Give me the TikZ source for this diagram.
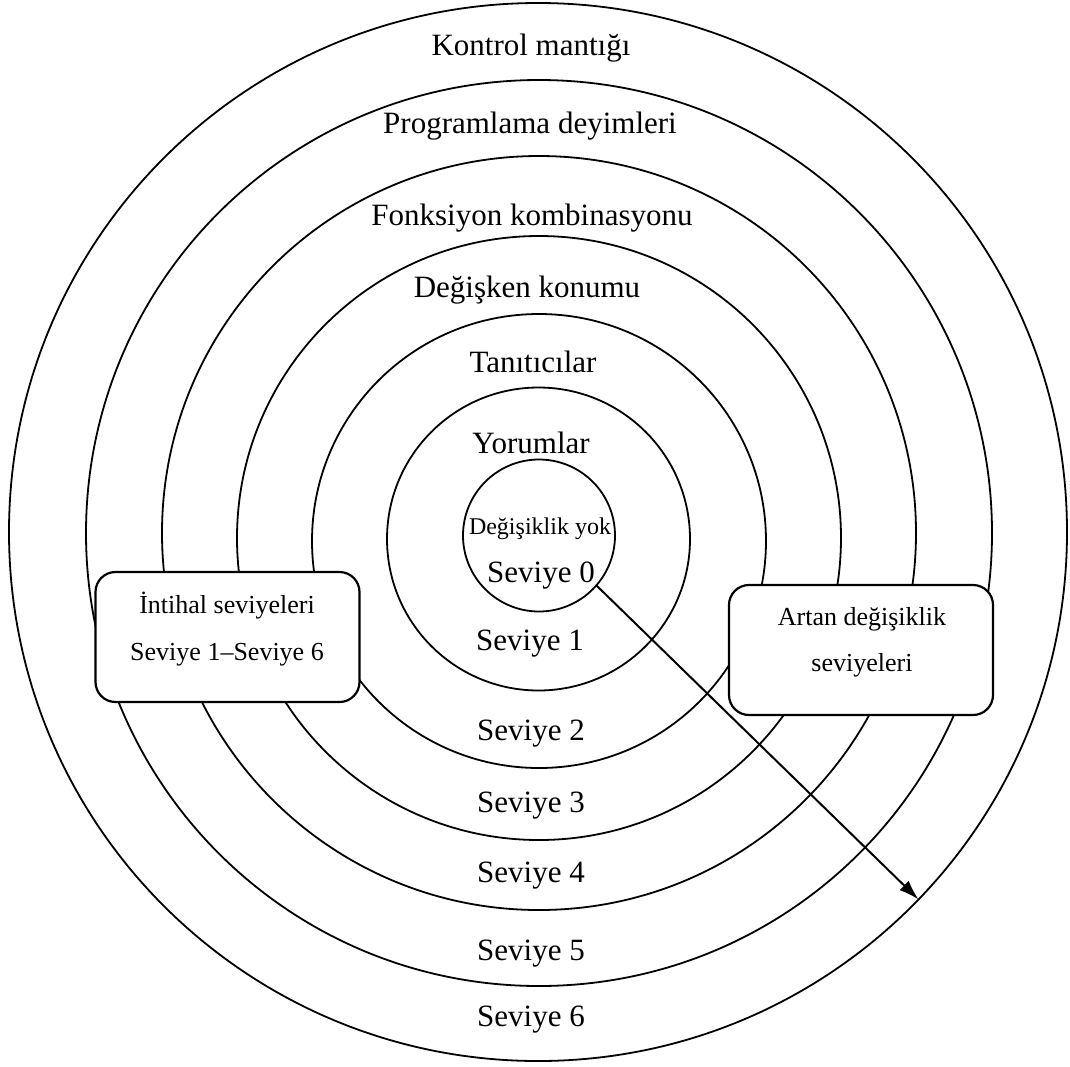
\documentclass[tikz,border=0pt]{standalone}
\usepackage{fontspec}
\setmainfont{Liberation Serif}
\usetikzlibrary{arrows.meta}
\begin{document}
\begin{tikzpicture}[x=1pt,y=-1pt,
  ring/.style={draw, circle, line width=1.8pt, inner sep=0pt, outer sep=0pt, minimum size=#1},
  lbl/.style={inner sep=0pt, font=\fontsize{31}{37}\selectfont, text height=20.5pt, text depth=0pt},
  smalllbl/.style={inner sep=0pt, font=\fontsize{24}{29}\selectfont, text height=15.9pt, text depth=0pt},
  boxlbl/.style={inner sep=0pt, font=\fontsize{26}{31}\selectfont, text height=17.2pt, text depth=0pt},
  infobox/.style={draw, fill=white, rectangle, rounded corners=20pt, line width=2.2pt,
    inner sep=0pt, minimum width=264pt, minimum height=130pt},
  levelarrow/.style={line width=2pt, -{Latex[length=20pt,width=13pt]}}]
\useasboundingbox (0,0) rectangle (1070,1066);

% concentric levels, outermost first
\node[ring=1058pt] (ring6) at (538,532) {};
\node[ring=906pt]  (ring5) at (539,533) {};
\node[ring=754pt]  (ring4) at (539,533) {};
\node[ring=604pt]  (ring3) at (539,538) {};
\node[ring=454pt]  (ring2) at (539,541) {};
\node[ring=303pt]  (ring1) at (538.5,539) {};
\node[ring=152pt]  (ring0) at (539,535.5) {};

% names of the levels (upper half)
\node[lbl] (t6) at (531,45)  {Kontrol mantığı};
\node[lbl] (t5) at (530,123) {Programlama deyimleri};
\node[lbl] (t4) at (532,215) {Fonksiyon kombinasyonu};
\node[lbl] (t3) at (527,287) {Değişken konumu};
\node[lbl] (t2) at (533,362) {Tanıtıcılar};
\node[lbl] (t1) at (531,443) {Yorumlar};
\node[smalllbl] (t0) at (540,527) {Değişiklik yok};

% level numbers (lower half)
\node[lbl] (s0) at (541,572)  {Seviye 0};
\node[lbl] (s1) at (530,640)  {Seviye 1};
\node[lbl] (s2) at (531,730)  {Seviye 2};
\node[lbl] (s3) at (531,802)  {Seviye 3};
\node[lbl] (s4) at (531,872)  {Seviye 4};
\node[lbl] (s5) at (531,950)  {Seviye 5};
\node[lbl] (s6) at (531,1016) {Seviye 6};

% side boxes
\node[infobox] (leftbox) at (227.5,637) {};
\node[boxlbl] (lb1) at (227,605) {İntihal seviyeleri};
\node[boxlbl] (lb2) at (227,652) {Seviye 1–Seviye 6};

\node[infobox] (rightbox) at (861,650) {};
\node[boxlbl] (rb1) at (862,617) {Artan değişiklik};
\node[boxlbl] (rb2) at (862,663) {seviyeleri};

% direction of increasing change
\draw[levelarrow] (ring0.-41) -- (ring6.-44.8);
\end{tikzpicture}
\end{document}
